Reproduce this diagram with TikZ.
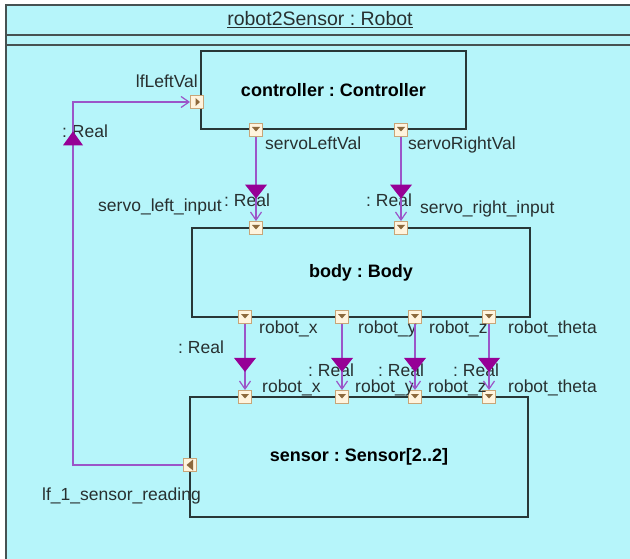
\documentclass[tikz,border=0pt]{standalone}
\usepackage{fontspec}
\setmainfont{Liberation Sans}
\usetikzlibrary{arrows.meta}
\frenchspacing

\definecolor{bgcyan}{RGB}{182,245,250}
\definecolor{boxline}{RGB}{40,55,55}
\definecolor{frameline}{RGB}{70,82,82}
\definecolor{connpurple}{RGB}{155,85,200}
\definecolor{flowfill}{RGB}{150,0,150}
\definecolor{portfill}{RGB}{255,244,222}
\definecolor{portline}{RGB}{200,165,120}
\definecolor{portmark}{RGB}{140,105,60}
\definecolor{textcol}{RGB}{40,48,48}

\begin{document}
\begin{tikzpicture}[x=1pt,y=-1pt,
  block/.style={draw=boxline, line width=1.8pt, fill=bgcyan, inner sep=0pt,
    font=\fontsize{18}{18}\selectfont\bfseries, text=black},
  port/.style={draw=portline, line width=0.9pt, fill=portfill, minimum size=13pt,
    inner sep=0pt, shape=rectangle},
  portdown/.style={port, path picture={\fill[portmark]
    ([xshift=-4pt,yshift=3pt]path picture bounding box.center) -- ++(8pt,0pt) -- ++(-4pt,-4.5pt) -- cycle;}},
  portright/.style={port, path picture={\fill[portmark]
    ([xshift=-1.5pt,yshift=4pt]path picture bounding box.center) -- ++(0pt,-8pt) -- ++(4.5pt,4pt) -- cycle;}},
  portleft/.style={port, path picture={\fill[portmark]
    ([xshift=3pt,yshift=5.5pt]path picture bounding box.center) -- ++(0pt,-11pt) -- ++(-6.5pt,5.5pt) -- cycle;}},
  lbl/.style={font=\fontsize{17.5}{17.5}\selectfont, text=textcol, inner sep=0pt},
  conn/.style={draw=connpurple, line width=1.4pt,
    -{Straight Barb[length=8pt,width=11pt,line width=1.2pt]}},
  flowdown/.pic={\fill[flowfill] (-11,-7) -- (11,-7) -- (0,7) -- cycle;},
  flowup/.pic={\fill[flowfill] (-10,7) -- (10,7) -- (0,-7) -- cycle;}
]
\useasboundingbox (0,0) rectangle (630,559);
\fill[white] (0,0) rectangle (630,559);

% enclosing frame with title compartment
\begin{scope}
  \clip (0,0) rectangle (630,559);
  \filldraw[fill=bgcyan, draw=frameline, line width=1.5pt] (6,5) rectangle (645,575);
  \draw[frameline, line width=1.5pt] (6,35) -- (645,35);
  \draw[frameline, line width=1.5pt] (6,45) -- (645,45);
\end{scope}
\node[font=\fontsize{19.5}{19.5}\selectfont, text=textcol, inner sep=0pt] (title) at (320,20)
  {\underline{robot2Sensor : Robot}};

% parts
\node[block, minimum width=265pt, minimum height=78pt] (ctrl) at (333.5,90) {controller : Controller};
\node[block, minimum width=338pt, minimum height=89pt] (body) at (361,272.5) {body : Body};
\node[block, minimum width=338pt, minimum height=120pt] (sens) at (359,457) {sensor : Sensor[2..2]};

% ports
\node[portright] (pLf)  at (197,102) {};
\node[portdown]  (pSLV) at (256,130) {};
\node[portdown]  (pSRV) at (401,130) {};
\node[portdown]  (pSLI) at (256,228) {};
\node[portdown]  (pSRI) at (401,228) {};
\node[portdown]  (pBx)  at (245,317) {};
\node[portdown]  (pBy)  at (342,317) {};
\node[portdown]  (pBz)  at (415,317) {};
\node[portdown]  (pBt)  at (489,317) {};
\node[portdown]  (pSx)  at (245,397) {};
\node[portdown]  (pSy)  at (342,397) {};
\node[portdown]  (pSz)  at (415,397) {};
\node[portdown]  (pSt)  at (489,397) {};
\node[portleft]  (pSens) at (190,465) {};

% port labels
\node[lbl, anchor=base east] (tLf) at (198,88) {lfLeftVal};
\node[lbl, anchor=base west] (tSLV) at (265,150) {servoLeftVal};
\node[lbl, anchor=base west] (tSRV) at (408,150) {servoRightVal};
\node[lbl, anchor=base east] (tSLI) at (222,212) {servo\_left\_input};
\node[lbl, anchor=base west] (tSRI) at (420,214) {servo\_right\_input};
\node[lbl, anchor=base west] (tBx) at (259,334) {robot\_x};
\node[lbl, anchor=base west] (tBy) at (358,334) {robot\_y};
\node[lbl, anchor=base west] (tBz) at (429,334) {robot\_z};
\node[lbl, anchor=base west] (tBt) at (508,334) {robot\_theta};
\node[lbl, anchor=base west] (tSx) at (262,392) {robot\_x};
\node[lbl, anchor=base west] (tSy) at (355,392) {robot\_y};
\node[lbl, anchor=base west] (tSz) at (428,392) {robot\_z};
\node[lbl, anchor=base west] (tSt) at (508,392) {robot\_theta};
\node[lbl, anchor=base west] (tSens) at (42,500) {lf\_1\_sensor\_reading};

% connector type labels
\node[lbl, anchor=base west] (rFb) at (62,138) {: Real};
\node[lbl, anchor=base west] (rL)  at (224,207) {: Real};
\node[lbl, anchor=base west] (rR)  at (366,207) {: Real};
\node[lbl, anchor=base west] (rX)  at (178,353) {: Real};
\node[lbl, anchor=base west] (rY)  at (308,376) {: Real};
\node[lbl, anchor=base west] (rZ)  at (378,376) {: Real};
\node[lbl, anchor=base west] (rT)  at (453,376) {: Real};

% connectors with flow direction markers
\draw[conn] (pSLV) -- coordinate[pos=0.65] (f1) (pSLI);
\draw[conn] (pSRV) -- coordinate[pos=0.65] (f2) (pSRI);
\draw[conn] (pBx) -- coordinate[pos=0.62] (f3) (pSx);
\draw[conn] (pBy) -- coordinate[pos=0.62] (f4) (pSy);
\draw[conn] (pBz) -- coordinate[pos=0.62] (f5) (pSz);
\draw[conn] (pBt) -- coordinate[pos=0.62] (f6) (pSt);
\coordinate (fbA) at (73,465);
\coordinate (fbB) at (73,102);
\draw[conn] (pSens) -- (fbA) -- coordinate[pos=0.9] (f0) (fbB) -- (pLf);
\foreach \m in {f1,f2,f3,f4,f5,f6} \pic at (\m) {flowdown};
\pic at (f0) {flowup};
\end{tikzpicture}
\end{document}
